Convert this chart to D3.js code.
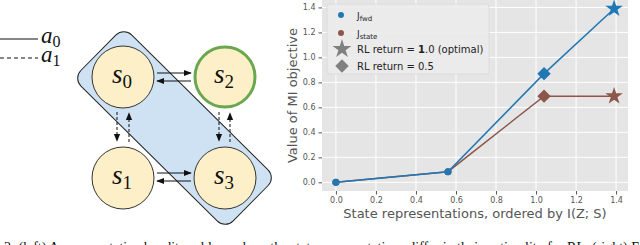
<!DOCTYPE html>
<html>
<head>
<meta charset="utf-8">
<script src="https://cdn.jsdelivr.net/npm/d3@7"></script>
<style>
  body { margin: 0; background: #fff; }
  svg { display: block; }
  .tick text { font-family: "DejaVu Sans", sans-serif; font-size: 8px; fill: #555; }
  .tick line { stroke: #555; }
  .osLabel { font-family: "DejaVu Sans", sans-serif; font-size: 13px; fill: #555; }
  .leg { font-family: "DejaVu Sans", sans-serif; font-size: 10px; fill: #222; }
  .mat { font-family: "Liberation Serif", serif; font-style: italic; fill: #111; }
</style>
</head>
<body>
<div id="okvir"></div>
<script>
// podaci grafa
const xVrijednosti = [0, 0.56, 1.04, 1.39]
const jFwd = [0, 0.085, 0.87, 1.39]
const jState = [0, 0.085, 0.69, 0.69]
const markeri = ["circle", "circle", "diamond", "star"]
const xTickovi = [0, 0.2, 0.4, 0.6, 0.8, 1.0, 1.2, 1.4]
const yTickovi = [0, 0.2, 0.4, 0.6, 0.8, 1.0, 1.2, 1.4]
const serije = [
  { ime: "state", vrijednosti: jState, boja: "#8c564b" },
  { ime: "fwd", vrijednosti: jFwd, boja: "#1f77b4" },
]

// dijagram stanja
const stanja = [
  { ime: "0", x: 123, y: 77, cilj: false },
  { ime: "2", x: 225, y: 77, cilj: true },
  { ime: "1", x: 123, y: 178, cilj: false },
  { ime: "3", x: 225, y: 178, cilj: false },
]

const okvir = d3.select("#okvir").append("svg")
    .attr("width", 640)
    .attr("height", 245)

const defs = okvir.append("defs")
defs.append("marker")
    .attr("id", "strelica")
    .attr("viewBox", "0 0 10 10")
    .attr("refX", 9).attr("refY", 5)
    .attr("markerWidth", 8).attr("markerHeight", 8)
    .attr("markerUnits", "userSpaceOnUse")
    .attr("orient", "auto")
  .append("path")
    .attr("d", "M0,1 L10,5 L0,9 Z")
    .attr("fill", "#111")

// ---- lijevo: dijagram ----
const lijevo = okvir.append("g")

// legenda akcija
lijevo.append("line").attr("x1", 0).attr("x2", 38).attr("y1", 39).attr("y2", 39)
    .attr("stroke", "#111").attr("stroke-width", 1.2)
lijevo.append("line").attr("x1", 0).attr("x2", 38).attr("y1", 58).attr("y2", 58)
    .attr("stroke", "#111").attr("stroke-width", 1.2).attr("stroke-dasharray", "4,3")
;[["0", 43], ["1", 62]].forEach(([s, y]) => {
  const t = lijevo.append("text").attr("class", "mat").attr("x", 41).attr("y", y)
      .style("font-size", "23px")
  t.append("tspan").text("a")
  t.append("tspan").attr("dy", 4).style("font-size", "16px").style("font-style", "normal").text(s)
})

// plavi pravokutnik
lijevo.append("rect")
    .attr("x", -107).attr("y", -36)
    .attr("width", 214).attr("height", 72)
    .attr("rx", 11)
    .attr("transform", "translate(174.5,128) rotate(44.7)")
    .attr("fill", "#cfe2f3")
    .attr("stroke", "#222")
    .attr("stroke-width", 1)

// strelice
const strelice = [
  { x1: 157, y1: 73, x2: 191, y2: 73, crt: false },
  { x1: 191, y1: 81, x2: 157, y2: 81, crt: false },
  { x1: 157, y1: 173, x2: 191, y2: 173, crt: false },
  { x1: 191, y1: 181, x2: 157, y2: 181, crt: false },
  { x1: 117, y1: 112, x2: 117, y2: 141, crt: true },
  { x1: 129, y1: 142, x2: 129, y2: 113, crt: true },
  { x1: 219, y1: 112, x2: 219, y2: 141, crt: true },
  { x1: 230, y1: 142, x2: 230, y2: 113, crt: true },
]
lijevo.selectAll(".strelica").data(strelice).enter().append("line")
    .attr("x1", d => d.x1).attr("y1", d => d.y1)
    .attr("x2", d => d.x2).attr("y2", d => d.y2)
    .attr("stroke", "#111").attr("stroke-width", 1)
    .attr("stroke-dasharray", d => d.crt ? "3,2" : null)
    .attr("marker-end", "url(#strelica)")

const cvorovi = lijevo.selectAll(".stanje").data(stanja).enter().append("g")
    .attr("transform", d => `translate(${d.x},${d.y})`)
cvorovi.append("circle")
    .attr("r", d => d.cilj ? 30 : 31)
    .attr("fill", "#fdf0c9")
    .attr("stroke", d => d.cilj ? "#6aa84f" : "#333")
    .attr("stroke-width", d => d.cilj ? 3 : 1)
const natpisi = cvorovi.append("text").attr("class", "mat")
    .attr("text-anchor", "middle").attr("x", -1).attr("y", 6)
    .style("font-size", "27px")
natpisi.append("tspan").text("s")
natpisi.append("tspan").attr("dy", 5).style("font-size", "19px").style("font-style", "normal")
    .text(d => d.ime)

// ---- desno: graf ----
const dim = { left: 322, right: 628, top: 0, bottom: 191 }

const xSkala = d3.scaleLinear()
    .domain([-0.0695, 1.4595])
    .range([dim.left, dim.right])
const ySkala = d3.scaleLinear()
    .domain([-0.0695, 1.4595])
    .range([dim.bottom, dim.top])

const graf = okvir.append("g")
graf.append("rect")
    .attr("x", dim.left).attr("y", dim.top)
    .attr("width", dim.right - dim.left).attr("height", dim.bottom - dim.top)
    .attr("fill", "#e5e5e5")

graf.append("g").selectAll("line").data(xTickovi).enter().append("line")
    .attr("x1", d => xSkala(d)).attr("x2", d => xSkala(d))
    .attr("y1", dim.top).attr("y2", dim.bottom)
    .attr("stroke", "#fff").attr("stroke-width", 1)
graf.append("g").selectAll("line").data(yTickovi).enter().append("line")
    .attr("x1", dim.left).attr("x2", dim.right)
    .attr("y1", d => ySkala(d)).attr("y2", d => ySkala(d))
    .attr("stroke", "#fff").attr("stroke-width", 1)

const xOs = graf.append("g")
    .attr("transform", `translate(0,${dim.bottom})`)
    .call(d3.axisBottom(xSkala).tickValues(xTickovi).tickFormat(d3.format(".1f")).tickSize(3.5).tickPadding(3))
const yOs = graf.append("g")
    .attr("transform", `translate(${dim.left},0)`)
    .call(d3.axisLeft(ySkala).tickValues(yTickovi).tickFormat(d3.format(".1f")).tickSize(3.5).tickPadding(3))
xOs.select(".domain").remove()
yOs.select(".domain").remove()

graf.append("text").attr("class", "osLabel")
    .attr("x", (dim.left + dim.right) / 2).attr("y", 218)
    .attr("text-anchor", "middle")
    .text("State representations, ordered by I(Z; S)")
graf.append("text").attr("class", "osLabel")
    .attr("transform", `translate(297,${(dim.top + dim.bottom) / 2}) rotate(-90)`)
    .attr("text-anchor", "middle")
    .text("Value of MI objective")

const linija = d3.line()
    .x((d, i) => xSkala(xVrijednosti[i]))
    .y(d => ySkala(d))

const simbol = (tip, velicina) => {
  if (tip === "star") return d3.symbol(d3.symbolStar, velicina.star)()
  if (tip === "diamond") return d3.symbol(d3.symbolSquare, velicina.diamond)()
  return d3.symbol(d3.symbolCircle, velicina.circle)()
}
const velicinePlot = { star: 95, diamond: 90, circle: 40 }

serije.forEach(s => {
  graf.append("path")
      .datum(s.vrijednosti)
      .attr("d", linija)
      .attr("fill", "none")
      .attr("stroke", s.boja)
      .attr("stroke-width", 1.5)
})
serije.forEach(s => {
  graf.append("g").selectAll("path").data(s.vrijednosti).enter().append("path")
      .attr("d", (d, i) => simbol(markeri[i], velicinePlot))
      .attr("transform", (d, i) => `translate(${xSkala(xVrijednosti[i])},${ySkala(d)})` +
        (markeri[i] === "diamond" ? " rotate(45)" : ""))
      .attr("fill", s.boja)
})

// legenda
const legenda = graf.append("g")
legenda.append("rect")
    .attr("x", 327).attr("y", 4).attr("width", 162).attr("height", 70).attr("rx", 3)
    .attr("fill", "#ebebeb").attr("fill-opacity", 0.9).attr("stroke", "#dcdcdc")

const stavke = [
  { tip: "circle", boja: "#1f77b4", tekst: ["J", "fwd"], y: 15 },
  { tip: "circle", boja: "#8c564b", tekst: ["J", "state"], y: 33 },
  { tip: "star", boja: "#808080", tekst: ["RL return = ", "1", ".0 (optimal)"], y: 49 },
  { tip: "diamond", boja: "#808080", tekst: ["RL return = 0.5"], y: 66 },
]
const velicineLeg = { star: 110, diamond: 90, circle: 28 }
stavke.forEach(s => {
  legenda.append("path")
      .attr("d", simbol(s.tip, velicineLeg))
      .attr("transform", `translate(${s.tip === "circle" ? 341 : 342},${s.y})` + (s.tip === "diamond" ? " rotate(45)" : ""))
      .attr("fill", s.boja)
  const t = legenda.append("text").attr("class", "leg").attr("x", 357).attr("y", s.y + 4)
  if (s.tekst.length === 2) {
    t.append("tspan").style("font-size", "9px").text(s.tekst[0])
    t.append("tspan").attr("dy", 2).style("font-size", "7px").text(s.tekst[1])
  } else if (s.tekst.length === 3) {
    t.append("tspan").text(s.tekst[0])
    t.append("tspan").style("font-weight", "bold").text(s.tekst[1])
    t.append("tspan").text(s.tekst[2])
  } else {
    t.text(s.tekst[0])
  }
})

// odrezani potpis
okvir.append("text")
    .attr("x", 4).attr("y", 252)
    .style("font-family", "Liberation Serif, serif").style("font-size", "14px").attr("fill", "#111")
    .text("2: (left) A representative bandit problem where the state representations differ in their optimality for RL. (right) Evaluating the MI objectives on these")
</script>
</body>
</html>
